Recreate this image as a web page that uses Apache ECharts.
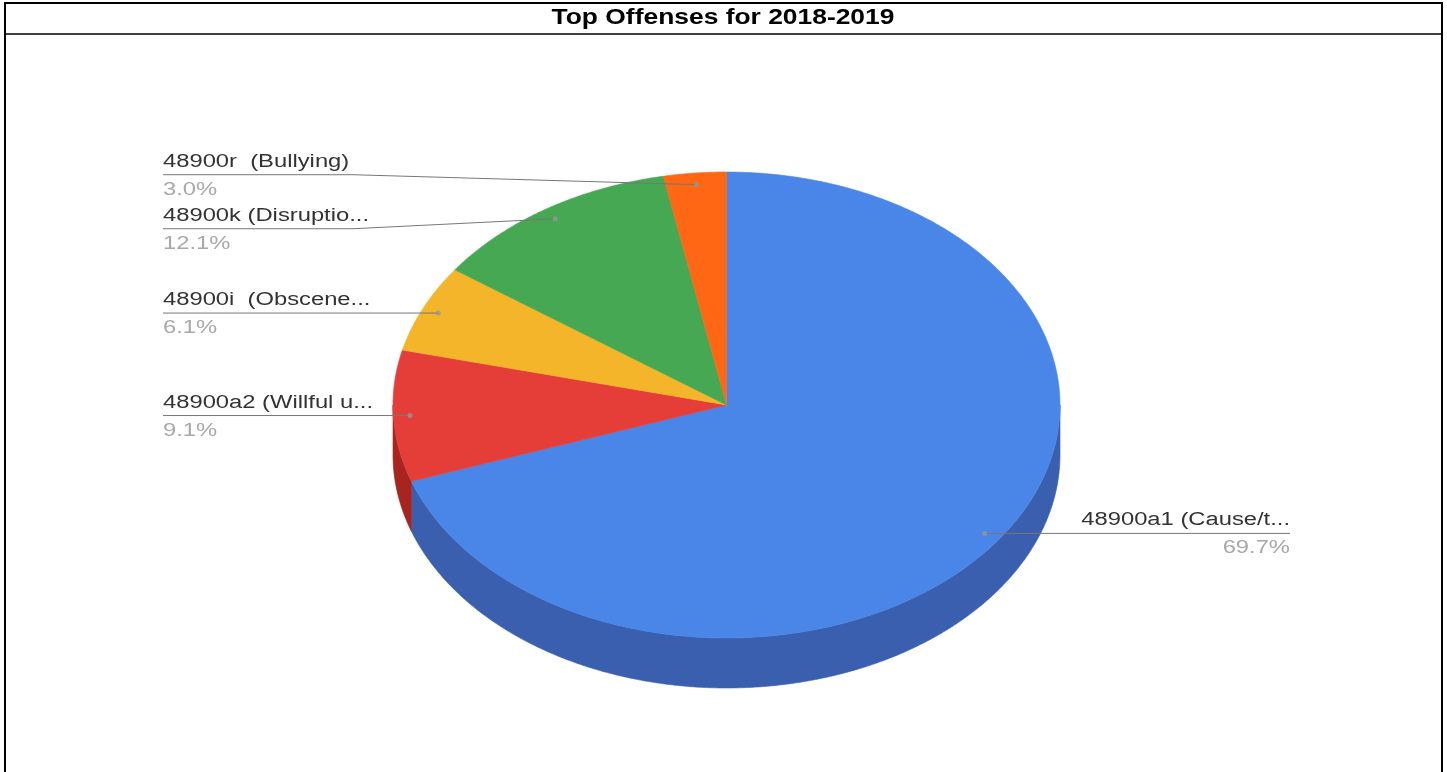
<!DOCTYPE html>
<html><head><meta charset="utf-8">
<script src="https://cdn.jsdelivr.net/npm/echarts@6/dist/echarts.min.js"></script>
<style>html,body{margin:0;padding:0;background:#fff}#c{width:1447px;height:772px}</style>
</head><body><div id="c"></div>
<script>
const chartTitle = 'Top Offenses for 2018-2019';
const categories = ['48900a1 (Cause/t...', '48900a2 (Willful u...', '48900i  (Obscene...', '48900k (Disruptio...', '48900r  (Bullying)'];
const counts = [23, 3, 2, 4, 1];
const topColors = ['#4a86e8', '#e53d37', '#f5b52a', '#46a853', '#ff6714'];
const sideColors = ['#3a5fae', '#a8241f', '#b8841c', '#2f7a3b', '#b84a0d'];

const CX = 726.5, CY = 405, RX = 333.5, RY = 233, DEPTH = 50;
const TXT_SCALE = 1.32;
const total = counts.reduce((a, b) => a + b, 0);
const slices = [];
let acc = 0;
counts.forEach((v) => {
  const a1 = acc / total * 2 * Math.PI; acc += v;
  const a2 = acc / total * 2 * Math.PI;
  slices.push({ a1, a2, mid: (a1 + a2) / 2 });
});
function pt(t, k, dy) { return [CX + RX * k * Math.sin(t), CY - RY * k * Math.cos(t) + (dy || 0)]; }
function arc(a1, a2, k, dy) {
  const n = Math.max(2, Math.ceil(Math.abs(a2 - a1) / (Math.PI / 360)));
  const out = [];
  for (let j = 0; j <= n; j++) out.push(pt(a1 + (a2 - a1) * j / n, k, dy));
  return out;
}
// label layout with simple collision spreading
const LABEL_GAP = 54;
const labels = slices.map((s, i) => { const d = pt(s.mid, 0.95); return { i, dot: d, side: Math.sin(s.mid) < 0 ? 'left' : 'right', y: d[1] }; });
function spread(group) {
  group.sort((a, b) => a.y - b.y);
  let clusters = group.map(g => ({ items: [g], center: g.y }));
  let changed = true;
  while (changed) {
    changed = false;
    for (let k = 0; k < clusters.length - 1; k++) {
      const A = clusters[k], B = clusters[k + 1];
      const aBottom = A.center + (A.items.length - 1) * LABEL_GAP / 2;
      const bTop = B.center - (B.items.length - 1) * LABEL_GAP / 2;
      if (bTop - aBottom < LABEL_GAP) {
        const items = A.items.concat(B.items);
        const center = items.reduce((s, it) => s + it.y, 0) / items.length;
        clusters.splice(k, 2, { items, center }); changed = true; break;
      }
    }
  }
  clusters.forEach(c => c.items.forEach((it, j) => { it.ly = c.center + (j - (c.items.length - 1) / 2) * LABEL_GAP; }));
}
spread(labels.filter(l => l.side === 'left'));
spread(labels.filter(l => l.side === 'right'));
const labelByIndex = {}; labels.forEach(l => labelByIndex[l.i] = l);
const LEFT_X = CX - RX - 230, RIGHT_X = CX + RX + 230, HOR = 190;
const FONT = '"Liberation Sans", Arial, sans-serif';

const chart = echarts.init(document.getElementById('c'), null, { renderer: 'canvas' });
chart.setOption({
  animation: false,
  graphic: [
    { type: 'rect', shape: { x: 5, y: 3, width: 1437, height: 820 }, style: { fill: 'none', stroke: '#000', lineWidth: 2 } },
    { type: 'line', shape: { x1: 5, y1: 34, x2: 1442, y2: 34 }, style: { stroke: '#000', lineWidth: 1.5 } },
    { type: 'text', x: 723, y: 18, scaleX: 1.2, style: { text: chartTitle, fontFamily: FONT, fontWeight: 'bold', fontSize: 22, fill: '#000', align: 'center', verticalAlign: 'middle' } }
  ],
  series: [{
    type: 'custom',
    coordinateSystem: 'none',
    data: counts,
    renderItem: function (params, api) {
      const i = params.dataIndex;
      const s = slices[i];
      const children = [];
      const f1 = Math.max(s.a1, Math.PI / 2), f2 = Math.min(s.a2, 3 * Math.PI / 2);
      if (f2 > f1) {
        const top = arc(f1, f2, 1, 0), bot = arc(f2, f1, 1, DEPTH);
        children.push({ type: 'polygon', z2: 1, shape: { points: top.concat(bot) }, style: { fill: sideColors[i], stroke: sideColors[i], lineWidth: 0.6 } });
      }
      children.push({ type: 'polygon', z2: 5, shape: { points: [[CX, CY]].concat(arc(s.a1, s.a2, 1, 0)) }, style: { fill: topColors[i], stroke: topColors[i], lineWidth: 0.6 } });
      const L = labelByIndex[i];
      const pct = (api.value(0) / total * 100).toFixed(1) + '%';
      const isLeft = L.side === 'left';
      const x0 = isLeft ? LEFT_X : RIGHT_X;
      const x1 = isLeft ? LEFT_X + HOR : RIGHT_X - HOR;
      children.push({ type: 'polyline', z2: 8, shape: { points: [[x0, L.ly], [x1, L.ly], L.dot] }, style: { stroke: '#777', lineWidth: 1, fill: null } });
      children.push({ type: 'circle', z2: 9, shape: { cx: L.dot[0], cy: L.dot[1], r: 2.5 }, style: { fill: 'rgba(150,150,150,0.8)' } });
      children.push({ type: 'text', z2: 10, x: x0, y: L.ly - 13, scaleX: TXT_SCALE, style: { text: categories[i], fontFamily: FONT, fontSize: 18, fill: '#333', align: isLeft ? 'left' : 'right', verticalAlign: 'middle' } });
      children.push({ type: 'text', z2: 10, x: x0, y: L.ly + 15, scaleX: TXT_SCALE, style: { text: pct, fontFamily: FONT, fontSize: 18, fill: '#a8a8a8', align: isLeft ? 'left' : 'right', verticalAlign: 'middle' } });
      return { type: 'group', children };
    }
  }]
});
</script>
</body></html>
